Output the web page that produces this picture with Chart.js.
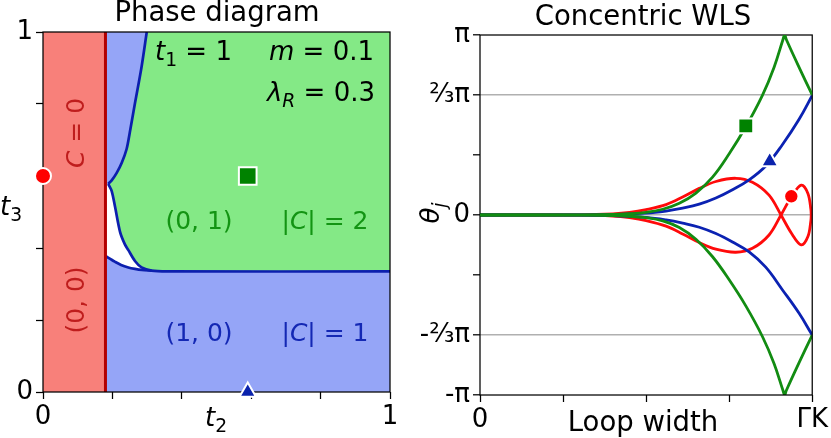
<!DOCTYPE html>
<html>
<head>
<meta charset="utf-8">
<script src="https://cdn.jsdelivr.net/npm/chart.js@4.4.1/dist/chart.umd.min.js"></script>
<style>
html, body { margin: 0; padding: 0; background: #fff; }
#wrap { position: relative; width: 831px; height: 438px; overflow: hidden; }
canvas { position: absolute; top: 0; }
#phase { left: 0; }
#wls { left: 410px; }
</style>
</head>
<body>
<div id="wrap">
  <canvas id="phase" width="410" height="438"></canvas>
  <canvas id="wls" width="421" height="438"></canvas>
</div>
<script>
// ---- phase diagram data (t2, t3) ----
const phaseXTicks = [0, 0.2, 0.4, 0.6, 0.8, 1];
const phaseXLabels = ['0', '', '', '', '', '1'];
const phaseYTicks = [0, 0.2, 0.4, 0.6, 0.8, 1];
const phaseYLabels = ['0', '', '', '', '', '1'];

const redLineX = 0.18;
const plotBox = [[0, 0], [1, 0], [1, 1], [0, 1], [0, 0]];
const redRegion = [[0, 0], [redLineX, 0], [redLineX, 1], [0, 1], [0, 0]];
// blue boundary from the top edge down to the cusp
const upperBoundary = [[0.299, 1], [0.284, 0.903], [0.265, 0.802], [0.25, 0.72], [0.241, 0.675],
  [0.227, 0.637], [0.212, 0.608], [0.198, 0.588], [0.188, 0.578]];
// boundary of the green region, from the cusp down and along to the right edge
const greenBoundary = [[0.188, 0.578], [0.198, 0.558], [0.2075, 0.515], [0.222, 0.445], [0.236, 0.41],
  [0.246, 0.394], [0.265, 0.364], [0.284, 0.346], [0.313, 0.337], [0.36, 0.335], [1, 0.335]];
const joinIndex = 8;
// lower boundary of the white pocket
const lowerBoundary = [[0.18, 0.378], [0.195, 0.369], [0.207, 0.362], [0.225, 0.353], [0.246, 0.346],
  [0.265, 0.342], [0.285, 0.339], [0.313, 0.337]];

const phaseCircle = [[0, 0.6]];
const phaseSquare = [[0.59, 0.6]];
const phaseTriangle = [[0.59, 0]];

// ---- concentric WLS data (x: loop width, y: theta in units of pi) ----
const wlsXTicks = [0, 0.25, 0.5, 0.75, 1];
const wlsXLabels = ['0', '', '', '', 'ΓK'];
const wlsYTicks = [-1, -2 / 3, -1 / 3, 0, 1 / 3, 2 / 3, 1];
const wlsYLabels = ['-π', '-⅔π', '', '0', '', '⅔π', 'π'];
const wlsGridLines = [-2 / 3, 0, 2 / 3];

const redUpper = [[0, 0], [0.3, 0.001], [0.4, 0.006], [0.45, 0.014], [0.5, 0.03], [0.56, 0.058],
  [0.61, 0.1], [0.66, 0.148], [0.71, 0.186], [0.77, 0.204], [0.82, 0.182], [0.87, 0.11], [0.906, 0],
  [0.937, -0.1], [0.967, -0.166], [0.987, -0.12], [0.996, -0.03], [0.997, 0]];
const redLower = [[0, 0], [0.3, -0.001], [0.4, -0.006], [0.45, -0.015], [0.5, -0.031], [0.56, -0.062],
  [0.61, -0.105], [0.66, -0.153], [0.71, -0.19], [0.77, -0.207], [0.82, -0.185], [0.87, -0.111], [0.906, 0],
  [0.937, 0.1], [0.967, 0.166], [0.987, 0.12], [0.996, 0.03], [0.997, 0]];
const blueUpper = [[0, 0], [0.3, 0.001], [0.4, 0.003], [0.5, 0.01], [0.56, 0.022], [0.61, 0.038],
  [0.66, 0.06], [0.71, 0.094], [0.76, 0.14], [0.81, 0.195], [0.86, 0.272], [0.91, 0.39],
  [0.96, 0.53], [1, 0.664]];
const blueLower = [[0, 0], [0.3, -0.001], [0.4, -0.004], [0.5, -0.013], [0.56, -0.027], [0.61, -0.045],
  [0.66, -0.068], [0.71, -0.103], [0.76, -0.15], [0.81, -0.205], [0.86, -0.29], [0.91, -0.415],
  [0.96, -0.545], [1, -0.667]];
const greenUpper = [[0, 0], [0.3, 0.0005], [0.4, 0.003], [0.45, 0.007], [0.5, 0.015], [0.55, 0.032],
  [0.6, 0.065], [0.65, 0.122], [0.7, 0.21], [0.75, 0.34], [0.8, 0.49], [0.85, 0.665],
  [0.885, 0.82], [0.912, 0.975], [0.917, 1], [0.922, 0.975], [0.958, 0.83], [1, 0.667]];
const greenLower = [[0, 0], [0.3, -0.0005], [0.4, -0.003], [0.45, -0.007], [0.5, -0.015], [0.55, -0.033],
  [0.6, -0.07], [0.65, -0.135], [0.7, -0.232], [0.75, -0.36], [0.8, -0.505], [0.85, -0.675],
  [0.885, -0.825], [0.912, -0.975], [0.917, -1], [0.922, -0.975], [0.958, -0.83], [1, -0.667]];

const wlsSquare = [[0.8, 0.495]];
const wlsTriangle = [[0.872, 0.298]];
const wlsCircle = [[0.937, 0.104]];

// ---- colours ----
const fillRed = '#f8807a';
const fillBlue = '#95a5f7';
const fillGreen = '#84e986';
const edgeBlue = '#0c1fae';
const edgeRed = '#b30000';
const lineRed = '#ff0a0a';
const lineBlue = '#0b22b2';
const lineGreen = '#128c12';

Chart.defaults.font.family = '"DejaVu Sans", sans-serif';
Chart.defaults.color = '#000';

const pts = arr => arr.map(([x, y]) => ({ x: x, y: y }));

function region(arr, color, order) {
  return { data: pts(arr), fill: 'shape', backgroundColor: color, borderColor: 'rgba(0,0,0,0)',
    borderWidth: 0, pointRadius: 0, tension: 0, order: order };
}
function curve(arr, color, width, order, extra) {
  return Object.assign({ data: pts(arr), fill: false, borderColor: color, borderWidth: width,
    pointRadius: 0, tension: 0.4, order: order }, extra || {});
}
function marker(arr, style, radius, color) {
  return { data: pts(arr), showLine: false, pointStyle: style, pointRadius: radius,
    pointBackgroundColor: color, pointBorderColor: '#fff', pointBorderWidth: 2, clip: false, order: 0 };
}

// text with italic / subscript parts
function fontFor(p, size) {
  const st = p[1] || '';
  const s = st.includes('s') ? size * 0.72 : size;
  return (st.includes('i') ? 'italic ' : '') + s + 'px "DejaVu Sans"';
}
function drawRich(ctx, parts, x, y, align, size, color) {
  let w = 0;
  for (const p of parts) { ctx.font = fontFor(p, size); w += ctx.measureText(p[0]).width; }
  let cx = align === 'center' ? x - w / 2 : align === 'right' ? x - w : x;
  ctx.fillStyle = color;
  ctx.textAlign = 'left';
  ctx.textBaseline = 'alphabetic';
  for (const p of parts) {
    ctx.font = fontFor(p, size);
    const sub = (p[1] || '').includes('s');
    ctx.fillText(p[0], cx, y + (sub ? size * 0.24 : 0));
    cx += ctx.measureText(p[0]).width;
  }
}
function drawRotated(ctx, parts, x, y, size, color) {
  ctx.save();
  ctx.translate(x, y);
  ctx.rotate(-Math.PI / 2);
  drawRich(ctx, parts, 0, size * 0.36, 'center', size, color);
  ctx.restore();
}

function overlay(drawTexts) {
  return {
    id: 'overlay',
    afterDatasetDraw(chart, args) {
      if (!chart.data.datasets[args.index].frameAfter) return;
      const a = chart.chartArea;
      const ctx = chart.ctx;
      ctx.save();
      ctx.strokeStyle = '#000';
      ctx.lineWidth = 1.25;
      ctx.strokeRect(a.left, a.top, a.right - a.left, a.bottom - a.top);
      ctx.restore();
    },
    afterDraw(chart) {
      const ctx = chart.ctx;
      ctx.save();
      drawTexts(ctx, chart);
      ctx.restore();
    }
  };
}

function axis(ticks, labels, fit, extraGrid) {
  return {
    type: 'linear', min: ticks[0], max: ticks[ticks.length - 1],
    afterFit: fit,
    afterBuildTicks: s => { s.ticks = ticks.map(v => ({ value: v })); },
    ticks: { callback: (v, i) => labels[i], font: { size: 26 }, color: '#000', padding: 3,
      maxRotation: 0, autoSkip: false },
    grid: Object.assign({ drawOnChartArea: false, tickLength: 7, tickColor: '#000', tickWidth: 1.25 }, extraGrid || {}),
    border: { display: false }
  };
}

// ---- left: phase diagram ----
const greenRegion = upperBoundary.concat(greenBoundary.slice(1), [[1, 1]], [upperBoundary[0]]);
const whiteRegion = greenBoundary.slice(0, joinIndex + 1)
  .concat(lowerBoundary.slice().reverse(), [[redLineX, greenBoundary[0][1]], greenBoundary[0]]);

new Chart(document.getElementById('phase'), {
  type: 'line',
  data: {
    datasets: [
      region(plotBox, fillBlue, 20),
      region(greenRegion, fillGreen, 19),
      region(whiteRegion, '#ffffff', 18),
      region(redRegion, fillRed, 17),
      curve(upperBoundary, edgeBlue, 2.7, 10, { tension: 0.3 }),
      curve(greenBoundary, edgeBlue, 2.7, 10, { tension: 0.3 }),
      curve(lowerBoundary, edgeBlue, 2.7, 10, { tension: 0.3 }),
      curve([[redLineX, 0], [redLineX, 1]], edgeRed, 3, 9, { tension: 0, frameAfter: true }),
      marker(phaseCircle, 'circle', 8, '#ff0000'),
      marker(phaseSquare, 'rect', 12.5, '#008200'),
      marker(phaseTriangle, 'triangle', 9.5, '#0a22ac')
    ]
  },
  options: {
    responsive: false, animation: false, events: [],
    layout: { padding: { top: 32, right: 20, left: 0, bottom: 0 } },
    plugins: { legend: { display: false }, tooltip: { enabled: false } },
    scales: {
      x: axis(phaseXTicks, phaseXLabels, s => { s.height = 46; }),
      y: axis(phaseYTicks, phaseYLabels, s => { s.width = 43; })
    }
  },
  plugins: [overlay((ctx) => {
    drawRich(ctx, [['Phase diagram']], 217, 21, 'center', 27.5, '#000');
    drawRich(ctx, [['t', 'i'], ['1', 's'], [' = 1']], 155, 60, 'left', 26, '#000');
    drawRich(ctx, [['m', 'i'], [' = 0.1']], 374, 60, 'right', 26, '#000');
    drawRich(ctx, [['λ', 'i'], ['R', 'is'], [' = 0.3']], 375, 101, 'right', 26, '#000');
    drawRotated(ctx, [['C', 'i'], [' = 0']], 75, 133, 25, '#bf1d1d');
    drawRotated(ctx, [['(0, 0)']], 75, 300, 25, '#bf1d1d');
    drawRich(ctx, [['(0, 1)']], 199, 229, 'center', 25, '#139413');
    drawRich(ctx, [['|'], ['C', 'i'], ['| = 2']], 325, 229, 'center', 25, '#139413');
    drawRich(ctx, [['(1, 0)']], 199, 341, 'center', 25, '#1428b4');
    drawRich(ctx, [['|'], ['C', 'i'], ['| = 1']], 325, 341, 'center', 25, '#1428b4');
    drawRich(ctx, [['t', 'i'], ['2', 's']], 216, 426, 'center', 26, '#000');
    drawRich(ctx, [['t', 'i'], ['3', 's']], 11, 215, 'center', 26, '#000');
  })]
});

// ---- right: concentric WLS ----
const nearGrid = v => wlsGridLines.some(g => Math.abs(g - v) < 1e-6);

new Chart(document.getElementById('wls'), {
  type: 'line',
  data: {
    datasets: [
      curve(redUpper, lineRed, 2.8, 6, { tension: 0.35 }),
      curve(redLower, lineRed, 2.8, 6, { tension: 0.35 }),
      curve(blueUpper, lineBlue, 2.8, 5),
      curve(blueLower, lineBlue, 2.8, 5),
      curve(greenUpper, lineGreen, 2.8, 4),
      curve(greenLower, lineGreen, 2.8, 4, { frameAfter: true }),
      marker(wlsSquare, 'rect', 10.5, '#008200'),
      marker(wlsTriangle, 'triangle', 9.8, '#0a22ac'),
      marker(wlsCircle, 'circle', 7.2, '#ff0000')
    ]
  },
  options: {
    responsive: false, animation: false, events: [],
    layout: { padding: { top: 35, right: 18, left: 0, bottom: 0 } },
    plugins: { legend: { display: false }, tooltip: { enabled: false } },
    scales: {
      x: axis(wlsXTicks, wlsXLabels, s => { s.height = 43; }),
      y: axis(wlsYTicks, wlsYLabels, s => { s.width = 70; }, {
        drawOnChartArea: true,
        color: c => (c.tick && nearGrid(c.tick.value)) ? '#b0b0b0' : 'rgba(0,0,0,0)',
        lineWidth: 1.6
      })
    }
  },
  plugins: [overlay((ctx) => {
    drawRich(ctx, [['Concentric WLS']], 233, 25, 'center', 27.5, '#000');
    drawRotated(ctx, [['θ', 'i'], ['j', 'is']], 20, 213, 26, '#000');
    drawRich(ctx, [['Loop width']], 233, 431, 'center', 27.5, '#000');
  })]
});
</script>
</body>
</html>
